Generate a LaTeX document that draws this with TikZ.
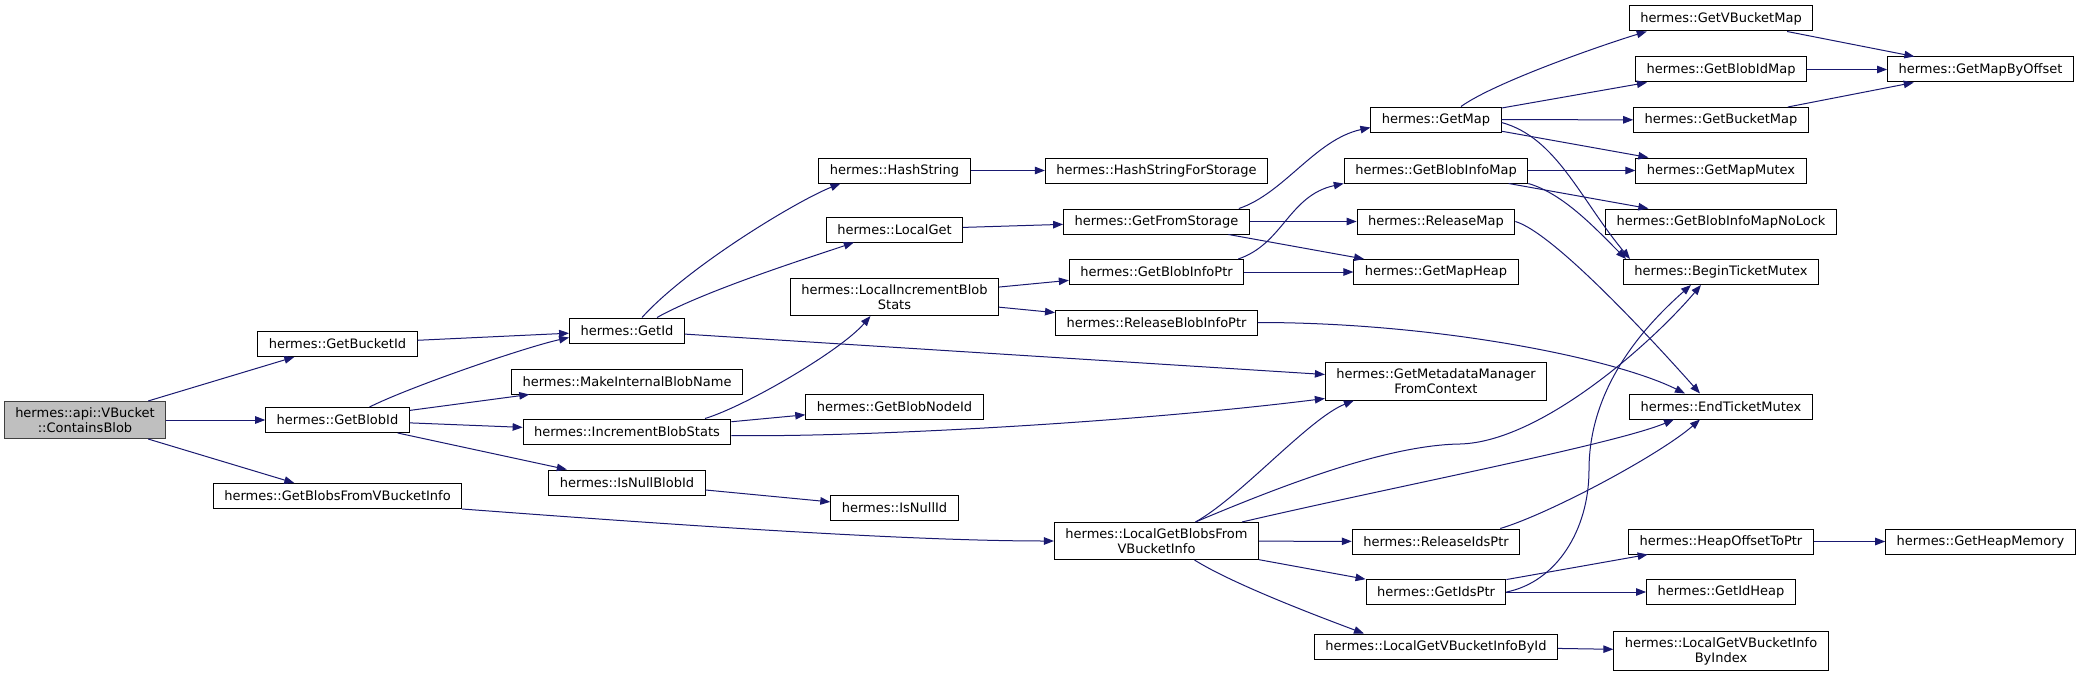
\documentclass[tikz,border=0pt]{standalone}
\usepackage{fontspec}
\usepackage{xcolor}
\usetikzlibrary{arrows.meta}
\newfontfamily\graphfont{DejaVu Sans}
\definecolor{edgeblue}{HTML}{191970}
\definecolor{selgray}{HTML}{BFBFBF}
\definecolor{selborder}{HTML}{404040}

\begin{document}
\begin{tikzpicture}[
  x=1pt, y=-1pt,
  >={Triangle[length=10pt,width=7.5pt]},
  fn/.style={draw=black, fill=white, line width=1pt, inner xsep=11pt, inner ysep=6pt,
             minimum height=25pt, align=center,
             font=\graphfont\fontsize{13}{15}\selectfont},
  sel/.style={fn, draw=selborder, fill=selgray},
  e/.style={->, line width=1pt, draw=edgeblue}
]
  \useasboundingbox (0,0) rectangle (2081,677);
  % rank 0 / 1
  \node[sel] (cb)  at (85,420)    {hermes::api::VBucket\\::ContainsBlob};
  \node[fn] (gbk)  at (337.5,344) {hermes::GetBucketId};
  \node[fn] (gbi)  at (337.5,420) {hermes::GetBlobId};
  \node[fn] (gbv)  at (337.5,496) {hermes::GetBlobsFromVBucketInfo};
  % rank 2
  \node[fn] (gid)  at (627,330.5) {hermes::GetId};
  \node[fn] (mkn)  at (627,381.5) {hermes::MakeInternalBlobName};
  \node[fn] (ibs)  at (627,431.5) {hermes::IncrementBlobStats};
  \node[fn] (nbi)  at (627,482.5) {hermes::IsNullBlobId};
  % rank 3
  \node[fn] (hsh)  at (894.5,170.5) {hermes::HashString};
  \node[fn] (lget) at (894.5,229.5) {hermes::LocalGet};
  \node[fn] (libs) at (894.5,297)   {hermes::LocalIncrementBlob\\Stats};
  \node[fn] (gbn)  at (894.5,406.5) {hermes::GetBlobNodeId};
  \node[fn] (nid)  at (894.5,508)   {hermes::IsNullId};
  % rank 4
  \node[fn] (hsfs) at (1156.5,170.5) {hermes::HashStringForStorage};
  \node[fn] (gfs)  at (1156.5,221.5) {hermes::GetFromStorage};
  \node[fn] (gbip) at (1156.5,272)   {hermes::GetBlobInfoPtr};
  \node[fn] (rbip) at (1156.5,322.5) {hermes::ReleaseBlobInfoPtr};
  \node[fn] (lgbv) at (1156.5,541)   {hermes::LocalGetBlobsFrom\\VBucketInfo};
  % rank 5
  \node[fn] (gmap) at (1436,119.5) {hermes::GetMap};
  \node[fn] (gbim) at (1436,170.5) {hermes::GetBlobInfoMap};
  \node[fn] (rmap) at (1436,221.5) {hermes::ReleaseMap};
  \node[fn] (gmh)  at (1436,272)   {hermes::GetMapHeap};
  \node[fn] (gmm)  at (1436,381.5) {hermes::GetMetadataManager\\FromContext};
  \node[fn] (rids) at (1436,541.5) {hermes::ReleaseIdsPtr};
  \node[fn] (gidp) at (1436,592)   {hermes::GetIdsPtr};
  \node[fn] (lgvi) at (1436,646.5) {hermes::LocalGetVBucketInfoById};
  % rank 6
  \node[fn] (gvbm)   at (1721,18.5)  {hermes::GetVBucketMap};
  \node[fn] (gbidm)  at (1721,69.5)  {hermes::GetBlobIdMap};
  \node[fn] (gbm)    at (1721,120)   {hermes::GetBucketMap};
  \node[fn] (gmmx)   at (1721,170.5) {hermes::GetMapMutex};
  \node[fn] (gbimnl) at (1721,221.5) {hermes::GetBlobInfoMapNoLock};
  \node[fn] (btm)    at (1721,272)   {hermes::BeginTicketMutex};
  \node[fn] (etm)    at (1721,406.5) {hermes::EndTicketMutex};
  \node[fn] (hotp)   at (1721,541.5) {hermes::HeapOffsetToPtr};
  \node[fn] (gih)    at (1721,592)   {hermes::GetIdHeap};
  \node[fn] (lgvbi)  at (1721,651)   {hermes::LocalGetVBucketInfo\\ByIndex};
  % rank 7
  \node[fn] (gmbo) at (1980.5,69.5)  {hermes::GetMapByOffset};
  \node[fn] (ghm)  at (1980.5,541.5) {hermes::GetHeapMemory};

  % calls from ContainsBlob
  \draw[e] (cb) -- (gbk);
  \draw[e] (cb) -- (gbi);
  \draw[e] (cb) -- (gbv);
  % rank 1 calls
  \draw[e] (gbk) -- (gid);
  \draw[e] ([xshift=32pt]gbi.north) .. controls +(40,-20) and +(-45,10) .. ([yshift=-7pt]gid.west);
  \draw[e] (gbi) -- (mkn);
  \draw[e] (gbi) -- (ibs);
  \draw[e] (gbi) -- (nbi);
  \draw[e] (gbv.south east) .. controls +(200,15) and +(-150,0) .. (lgbv.west);
  % rank 2 calls
  \draw[e] ([xshift=15pt]gid.north) .. controls +(45,-50) and +(-45,18) .. ([xshift=22pt]hsh.south west);
  \draw[e] ([xshift=30pt]gid.north) .. controls +(50,-28) and +(-35,12) .. ([xshift=28pt]lget.south west);
  \draw[e] (gid) -- (gmm);
  \draw[e] ([xshift=78pt]ibs.north) .. controls +(40,-12) and +(-30,35) .. ([xshift=-24pt]libs.south);
  \draw[e] (ibs) -- (gbn);
  \draw[e] ([yshift=-4pt]ibs.east) .. controls +(120,2) and +(-200,25) .. ([yshift=-17pt]gmm.west);
  \draw[e] (nbi) -- (nid);
  % rank 3 calls
  \draw[e] (hsh) -- (hsfs);
  \draw[e] (lget) -- (gfs);
  \draw[e] (libs) -- (gbip);
  \draw[e] (libs) -- (rbip);
  % rank 4 calls
  \draw[e] ([xshift=-11pt]gfs.north east) .. controls +(45,-15) and +(-55,12) .. ([yshift=-8pt]gmap.west);
  \draw[e] (gfs) -- (rmap);
  \draw[e] (gfs) -- (gmh);
  \draw[e] ([xshift=-6pt]gbip.north east) .. controls +(45,-15) and +(-55,12) .. (gbim.south west);
  \draw[e] (gbip) -- (gmh);
  \draw[e] (rbip.east) .. controls +(180,0) and +(-70,-35) .. ([xshift=-36pt]etm.north);
  \draw[e] ([xshift=39pt]lgbv.north) .. controls +(45,-25) and +(-45,18) .. ([xshift=29pt]gmm.south west);
  \draw[e] ([xshift=39pt]lgbv.north) .. controls (1290,482) and (1390,445) .. (1460,444)
           .. controls (1540,442) and (1650,345) .. ([xshift=-20pt]btm.south);
  \draw[e] ([xshift=-17pt]lgbv.north east) .. controls +(150,-35) and +(-60,25) .. ([xshift=-47pt]etm.south);
  \draw[e] (lgbv) -- (rids);
  \draw[e] (lgbv) -- (gidp);
  \draw[e] ([xshift=38pt]lgbv.south) .. controls +(40,25) and +(-40,-15) .. ([xshift=50pt]lgvi.north west);
  % rank 5 calls
  \draw[e] ([xshift=25pt]gmap.north) .. controls +(35,-25) and +(-40,12) .. ([xshift=18pt]gvbm.south west);
  \draw[e] (gmap) -- (gbidm);
  \draw[e] (gmap) -- (gbm);
  \draw[e] (gmap) -- (gmmx);
  \draw[e] ([yshift=-3pt]gmap.east) .. controls +(55,15) and +(-50,-60) .. ([xshift=7pt]btm.north west);
  \draw[e] (gbim) -- (gmmx);
  \draw[e] (gbim) -- (gbimnl);
  \draw[e] (gbim.south east) .. controls +(35,10) and +(-30,-30) .. ([xshift=3pt]btm.north west);
  \draw[e] (rmap.east) .. controls +(40,12) and +(-40,-45) .. ([xshift=-21pt]etm.north);
  \draw[e] ([xshift=-20pt]rids.north east) .. controls +(50,-15) and +(-40,35) .. ([xshift=-21pt]etm.south);
  \draw[e] (gidp) -- (hotp);
  \draw[e] (gidp) -- (gih);
  \draw[e] (gidp.east) .. controls +(50,-10) and (1589,530) .. (1589,470)
           .. controls (1589,390) and (1640,330) .. ([xshift=-30pt]btm.south);
  \draw[e] (lgvi) -- (lgvbi);
  % rank 6 calls
  \draw[e] (gvbm) -- (gmbo);
  \draw[e] (gbidm) -- (gmbo);
  \draw[e] (gbm) -- (gmbo);
  \draw[e] (hotp) -- (ghm);
\end{tikzpicture}
\end{document}
